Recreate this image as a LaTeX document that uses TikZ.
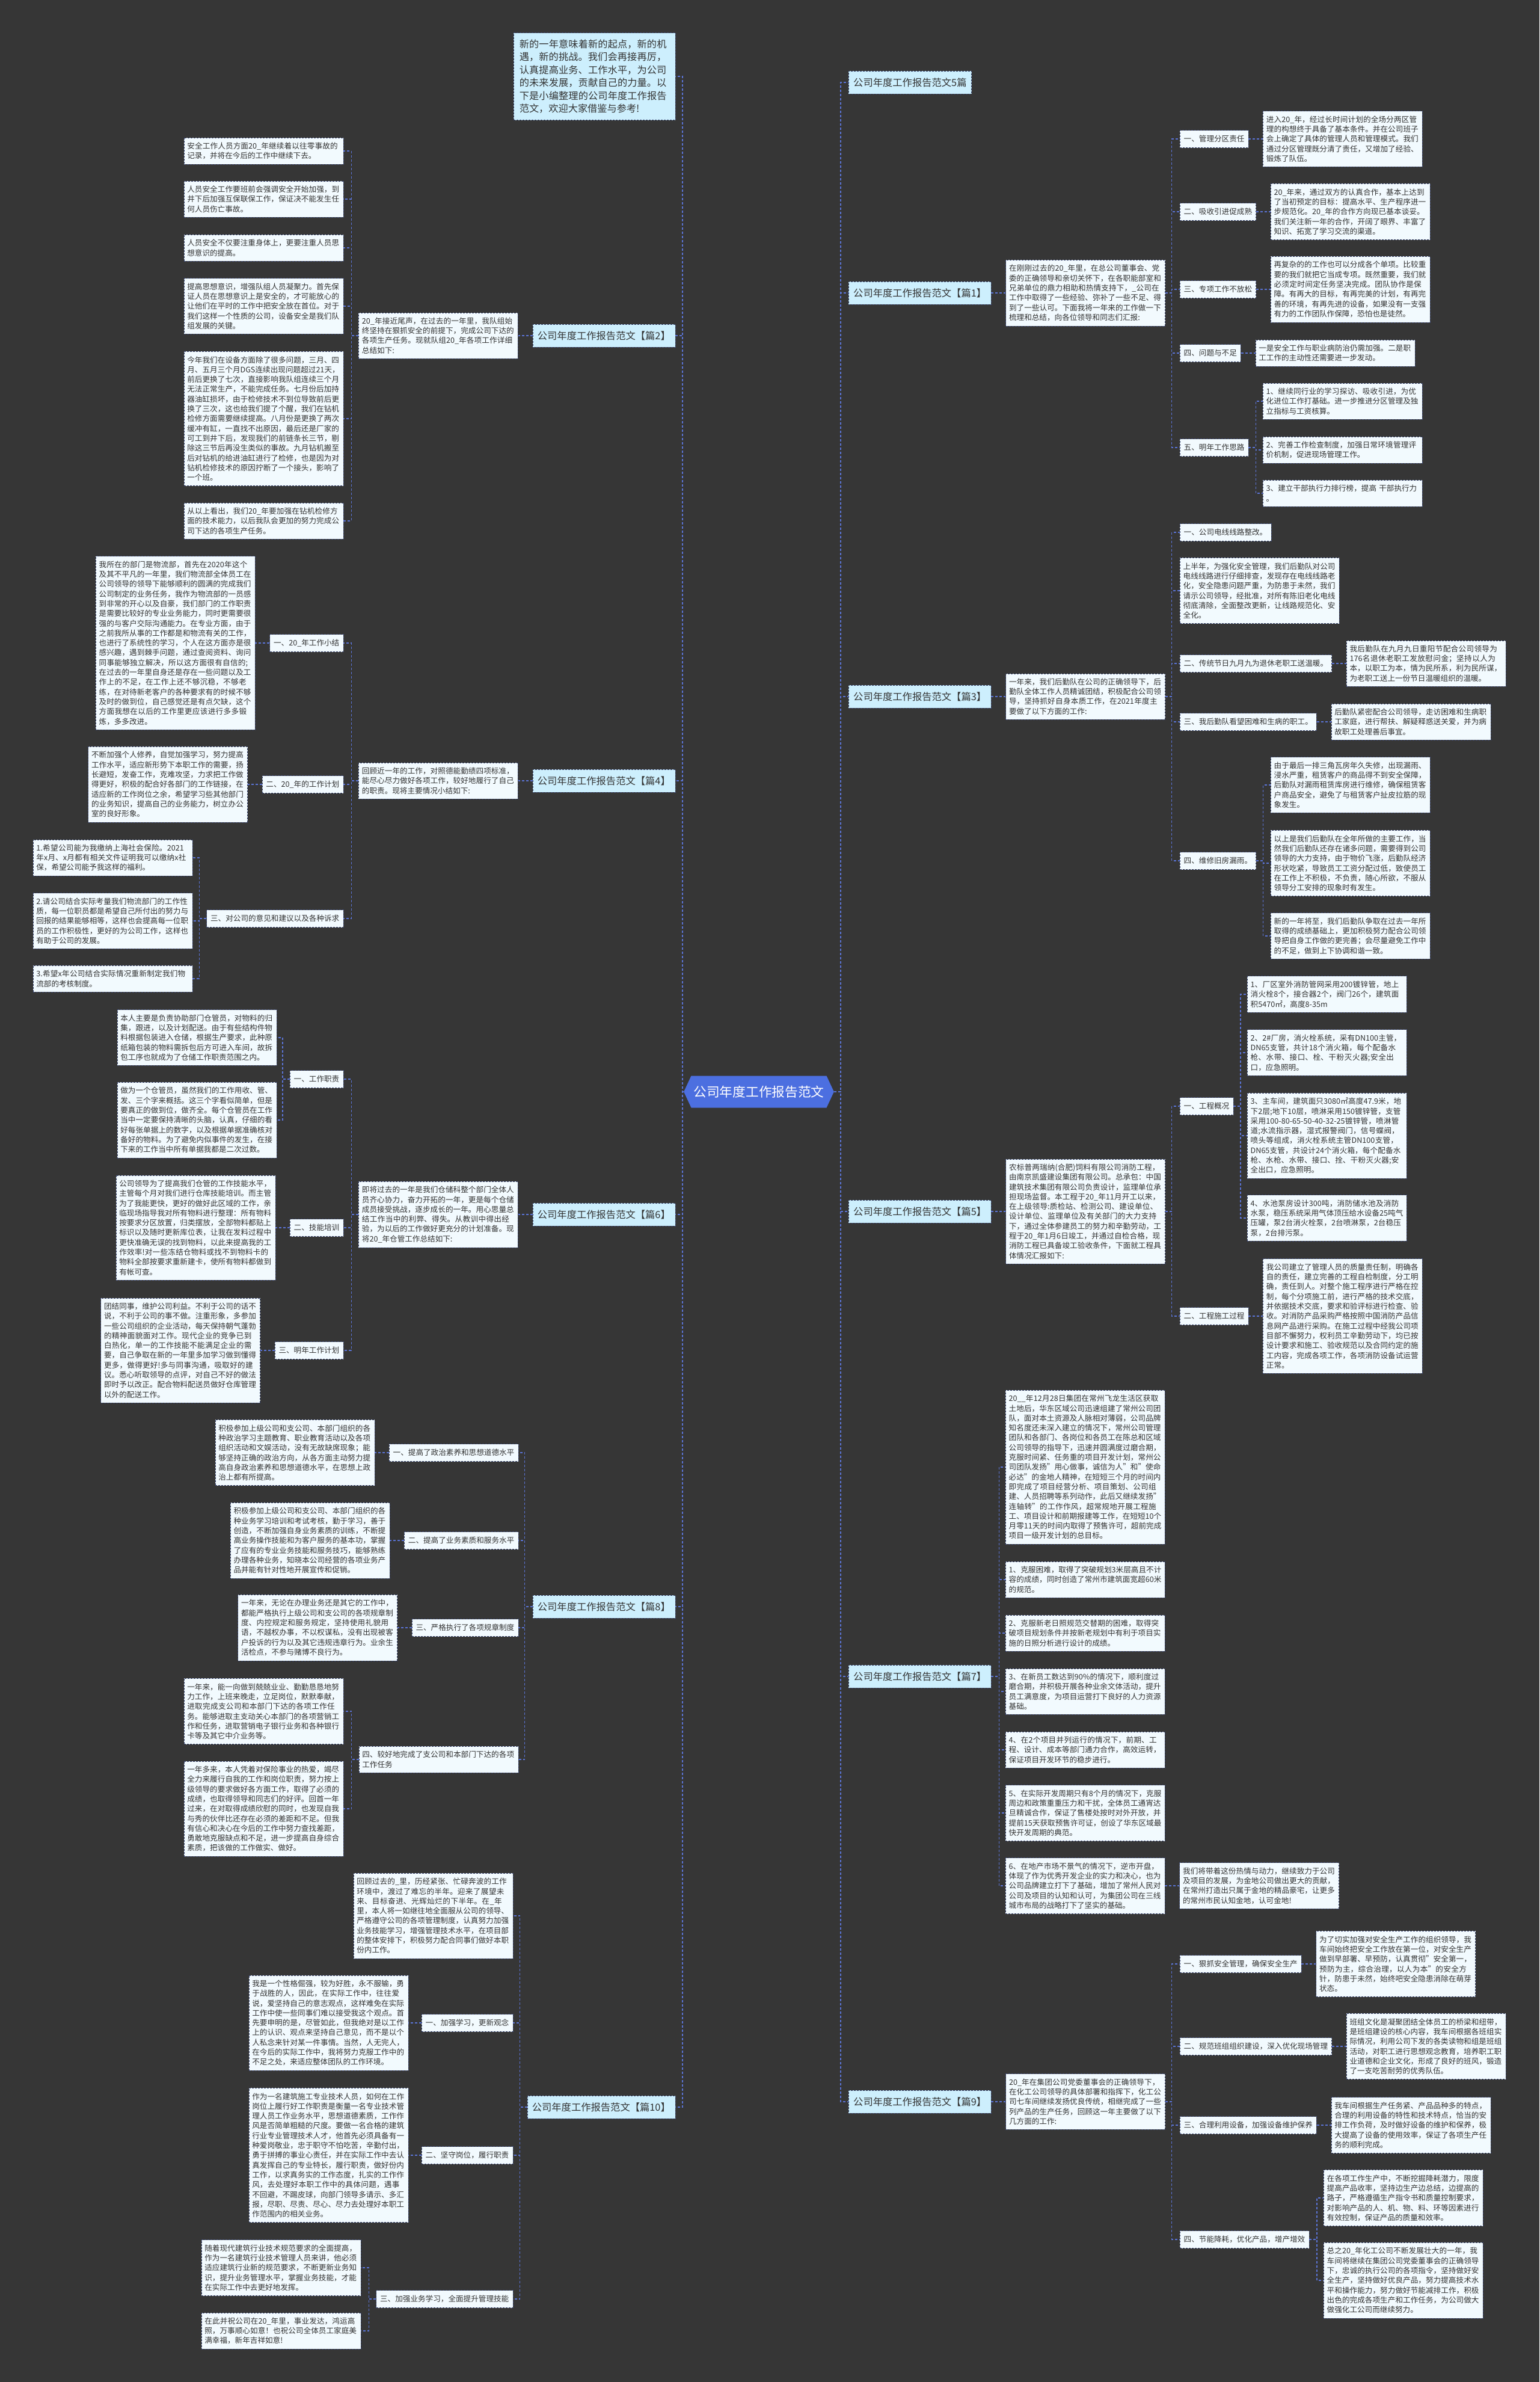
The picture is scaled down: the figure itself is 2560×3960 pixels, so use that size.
\documentclass[tikz,border=0pt]{standalone}
\usepackage{fontspec}
\setmainfont{Noto Sans CJK SC}
\XeTeXlinebreaklocale "zh"
\XeTeXlinebreakskip = 0pt plus 1pt
\usetikzlibrary{positioning, shapes.symbols}
\definecolor{mmback}{HTML}{363636}
\definecolor{mmhub}{HTML}{4C6FE0}
\definecolor{mmpale}{HTML}{CDEFFD}
\definecolor{mmleaf}{HTML}{F2FAFE}
\definecolor{mmedge}{HTML}{3A4670}
\definecolor{mmlink}{HTML}{5B74D6}
\definecolor{mmink}{HTML}{333333}
\newcommand\mmleaffont{\fontsize{12.6}{16.3}\selectfont}
\newcommand\mmbranchfont{\fontsize{16.3}{20}\selectfont}
\newcommand\mmintrofont{\fontsize{16.2}{21.5}\selectfont}
\newcommand\mmhubfont{\fontsize{21.7}{26}\selectfont}
\tikzset{
  hub/.style={
    signal, signal to=west and east, signal pointer angle=130, fill=mmhub,
    text=white, font=\mmhubfont, inner xsep=4pt, minimum height=53pt},
  branch/.style={
    draw=mmedge, dash pattern=on 3pt off 2pt, fill=mmpale, text=mmink,
    font=\mmbranchfont, inner xsep=8pt, minimum height=38pt},
  introbox/.style={
    branch, font=\mmintrofont, text width=249pt, inner xsep=10pt,
    inner ysep=11pt, align=left},
  topic/.style={
    draw=mmedge, dash pattern=on 3pt off 2pt, fill=mmleaf, text=mmink,
    font=\mmleaffont, inner xsep=6.5pt, minimum height=29pt},
  leaf/.style={
    topic, text width=254pt, inner xsep=5.5pt, inner ysep=8pt,
    minimum height=0pt, align=left},
  link/.style={draw=mmlink, dash pattern=on 4pt off 3pt, line width=1.3pt},
}

\begin{document}
\begin{tikzpicture}[x=1pt, y=-1pt]
  \fill[mmback] (0,0) rectangle (2560,3960);
  \useasboundingbox (0,0) rectangle (2560,3960);

  \node[hub] (hub) at (1262,1815) {公司年度工作报告范文};
  \coordinate (trunkL) at (1135,1815);
  \coordinate (trunkR) at (1398,1815);

  % ---------- left half ----------
  \node[introbox, anchor=east] (intro) at (1123,127)
       {新的一年意味着新的起点，新的机遇，新的挑战。我们会再接再厉，认真提高业务、工作水平，为公司的未来发展，贡献自己的力量。以下是小编整理的公司年度工作报告范文，欢迎大家借鉴与参考!};

  \node[branch, anchor=east] (b2) at (1123,558) {公司年度工作报告范文【篇2】};
  \node[leaf, left=24pt of b2] (s2) {20\_年接近尾声，在过去的一年里，我队组始终坚持在狠抓安全的前提下，完成公司下达的各项生产任务。现就队组20\_年各项工作详细总结如下:};
  \node[leaf, anchor=east] (l2a) at (571,251) {安全工作人员方面20\_年继续着以往零事故的记录，并将在今后的工作中继续下去。};
  \node[leaf, anchor=east] (l2b) at (571,331) {人员安全工作要班前会强调安全开始加强，到井下后加强互保联保工作，保证决不能发生任何人员伤亡事故。};
  \node[leaf, anchor=east] (l2c) at (571,412) {人员安全不仅要注重身体上，更要注重人员思想意识的提高。};
  \node[leaf, anchor=east] (l2d) at (571,509) {提高思想意识，增强队组人员凝聚力。首先保证人员在思想意识上是安全的，才可能放心的让他们在平时的工作中把安全放在首位。对于我们这样一个性质的公司，设备安全是我们队组发展的关键。};
  \node[leaf, anchor=east] (l2e) at (571,696) {今年我们在设备方面除了很多问题，三月、四月、五月三个月DGS连续出现问题超过21天，前后更换了七次，直接影响我队组连续三个月无法正常生产，不能完成任务。七月份后加持器油缸损坏，由于检修技术不到位导致前后更换了三次，这也给我们提了个醒，我们在钻机检修方面需要继续提高。八月份是更换了两次缓冲有缸，一直找不出原因，最后还是厂家的可工到井下后，发现我们的前链条长三节，剔除这三节后再没生类似的事故。九月钻机搬至后对钻机的给进油缸进行了检修，也是因为对钻机检修技术的原因拧断了一个接头，影响了一个班。};
  \node[leaf, anchor=east] (l2f) at (571,866) {从以上看出，我们20\_年要加强在钻机检修方面的技术能力，以后我队会更加的努力完成公司下达的各项生产任务。};

  \node[branch, anchor=east] (b4) at (1123,1298) {公司年度工作报告范文【篇4】};
  \node[leaf, left=24pt of b4] (s4) {回顾近一年的工作，对照德能勤绩四项标准，能尽心尽力做好各项工作，较好地履行了自己的职责。现将主要情况小结如下:};
  \node[topic, anchor=east] (t4a) at (571,1069) {一、20\_年工作小结};
  \node[leaf, left=24pt of t4a] (l4a) {我所在的部门是物流部，首先在2020年这个及其不平凡的一年里，我们物流部全体员工在公司领导的领导下能够顺利的圆满的完成我们公司制定的业务任务，我作为物流部的一员感到非常的开心以及自豪，我们部门的工作职责是需要比较好的专业业务能力，同时更需要很强的与客户交际沟通能力。在专业方面，由于之前我所从事的工作都是和物流有关的工作，也进行了系统性的学习，个人在这方面亦是很感兴趣，遇到棘手问题，通过查阅资料、询问同事能够独立解决，所以这方面很有自信的;在过去的一年里自身还是存在一些问题以及工作上的不足，在工作上还不够沉稳，不够老练，在对待新老客户的各种要求有的时候不够及时的做到位，自己感觉还是有点欠缺，这个方面我想在以后的工作里更应该进行多多锻炼，多多改进。};
  \node[topic, anchor=east] (t4b) at (571,1304) {二、20\_年的工作计划};
  \node[leaf, left=24pt of t4b] (l4b) {不断加强个人修养，自觉加强学习，努力提高工作水平，适应新形势下本职工作的需要，扬长避短，发奋工作，克难攻坚，力求把工作做得更好，积极的配合好各部门的工作链接，在适应新的工作岗位之余，希望学习些其他部门的业务知识，提高自己的业务能力，树立办公室的良好形象。};
  \node[topic, anchor=east] (t4c) at (571,1527) {三、对公司的意见和建议以及各种诉求};
  \node[leaf, anchor=east] (l4c1) at (320,1426) {1.希望公司能为我缴纳上海社会保险。2021年x月、x月都有相关文件证明我可以缴纳x社保，希望公司能予我这样的福利。};
  \node[leaf, anchor=east] (l4c2) at (320,1531) {2.请公司结合实际考量我们物流部门的工作性质，每一位职员都是希望自己所付出的努力与回报的结果能够相等，这样也会提高每一位职员的工作积极性，更好的为公司工作，这样也有助于公司的发展。};
  \node[leaf, anchor=east] (l4c3) at (320,1627) {3.希望x年公司结合实际情况重新制定我们物流部的考核制度。};

  \node[branch, anchor=east] (b6) at (1123,2019) {公司年度工作报告范文【篇6】};
  \node[leaf, left=24pt of b6] (s6) {即将过去的一年是我们仓储科整个部门全体人员齐心协力，奋力开拓的一年，更是每个仓储成员接受挑战，逐步成长的一年。用心思量总结工作当中的利弊、得失。从教训中得出经验，为以后的工作做好更充分的计划准备。现将20\_年仓管工作总结如下:};
  \node[topic, anchor=east] (t6a) at (571,1794) {一、工作职责};
  \node[leaf, anchor=east] (l6a1) at (460,1725) {本人主要是负责协助部门仓管员，对物料的归集，跟进，以及计划配送。由于有些结构件物料根据包装进入仓储，根据生产要求，此种原纸箱包装的物料需拆包后方可进入车间，故拆包工序也就成为了仓储工作职责范围之内。};
  \node[leaf, anchor=east] (l6a2) at (460,1862) {做为一个仓管员，虽然我们的工作用收、管、发、三个字来概括。这三个字看似简单，但是要真正的做到位，做齐全。每个仓管员在工作当中一定要保持清晰的头脑，认真，仔细的看好每张单据上的数字，以及根据单据准确核对备好的物料。为了避免内似事件的发生，在接下来的工作当中所有单据我都是二次过数。};
  \node[topic, anchor=east] (t6b) at (571,2041) {二、技能培训};
  \node[leaf, left=24pt of t6b] (l6b) {公司领导为了提高我们仓管的工作技能水平，主管每个月对我们进行仓库技能培训。而主管为了我能更快，更好的做好此区域的工作，亲临现场指导我对所有物料进行整理：所有物料按要求分区放置，归类摆放，全部物料都贴上标识以及随时更新库位表，让我在发料过程中更快准确无误的找到物料，以此来提高我的工作效率!对一些冻结仓物料或找不到物料卡的物料全部按要求重新建卡，使所有物料都做到有帐可查。};
  \node[topic, anchor=east] (t6c) at (571,2245) {三、明年工作计划};
  \node[leaf, left=24pt of t6c] (l6c) {团结同事，维护公司利益。不利于公司的话不说，不利于公司的事不做。注重形象，多参加一些公司组织的企业活动，每天保持朝气蓬勃的精神面貌面对工作。现代企业的竞争已到白热化，单一的工作技能不能满足企业的需要，自己争取在新的一年里多加学习做到懂得更多，做得更好!多与同事沟通，吸取好的建议。悉心听取领导的点评，对自己不好的做法即时予以改正。配合物料配送员做好仓库管理以外的配送工作。};

  \node[branch, anchor=east] (b8) at (1123,2671) {公司年度工作报告范文【篇8】};
  \node[topic, anchor=east] (t8a) at (862,2415) {一、提高了政治素养和思想道德水平};
  \node[leaf, left=24pt of t8a] (l8a) {积极参加上级公司和支公司、本部门组织的各种政治学习主题教育、职业教育活动以及各项组织活动和文娱活动，没有无故缺席现象；能够坚持正确的政治方向，从各方面主动努力提高自身政治素养和思想道德水平，在思想上政治上都有所提高。};
  \node[topic, anchor=east] (t8b) at (862,2561) {二、提高了业务素质和服务水平};
  \node[leaf, left=24pt of t8b] (l8b) {积极参加上级公司和支公司、本部门组织的各种业务学习培训和考试考核，勤于学习，善于创造，不断加强自身业务素质的训练，不断提高业务操作技能和为客户服务的基本功，掌握了应有的专业业务技能和服务技巧，能够熟练办理各种业务，知晓本公司经营的各项业务产品并能有针对性地开展宣传和促销。};
  \node[topic, anchor=east] (t8c) at (862,2706) {三、严格执行了各项规章制度};
  \node[leaf, left=24pt of t8c] (l8c) {一年来，无论在办理业务还是其它的工作中，都能严格执行上级公司和支公司的各项规章制度、内控规定和服务规定，坚持使用礼貌用语，不越权办事，不以权谋私，没有出现被客户投诉的行为以及其它违规违章行为。业余生活检点，不参与赌博不良行为。};
  \node[leaf, anchor=east] (t8d) at (862,2925) {四、较好地完成了支公司和本部门下达的各项工作任务};
  \node[leaf, anchor=east] (l8d1) at (571,2845) {一年来，能一向做到兢兢业业、勤勤恳恳地努力工作，上班来晚走，立足岗位，默默奉献，进取完成支公司和本部门下达的各项工作任务。能够进取主支动关心本部门的各项营销工作和任务，进取营销电子银行业务和各种银行卡等及其它中介业务等。};
  \node[leaf, anchor=east] (l8d2) at (571,3007) {一年多来，本人凭着对保险事业的热爱，竭尽全力来履行自我的工作和岗位职责，努力按上级领导的要求做好各方面工作，取得了必须的成绩，也取得领导和同志们的好评。回首一年过来，在对取得成绩欣慰的同时，也发现自我与秀的伙伴比还存在必须的差距和不足。但我有信心和决心在今后的工作中努力查找差距，勇敢地克服缺点和不足，进一步提高自身综合素质，把该做的工作做实、做好。};

  \node[branch, anchor=east] (b10) at (1123,3503) {公司年度工作报告范文【篇10】};
  \node[leaf, anchor=east] (l10) at (853,3185) {回顾过去的\_里，历经紧张、忙碌奔波的工作环境中，渡过了难忘的半年。迎来了展望未来、目标奋进、光辉灿烂的下半年。在\_年里，本人将一如继往地全面服从公司的领导、严格遵守公司的各项管理制度，认真努力加强业务技能学习，增强管理技术水平，在项目部的整体安排下，积极努力配合同事们做好本职份内工作。};
  \node[topic, anchor=east] (t10a) at (853,3363) {一、加强学习，更新观念};
  \node[leaf, left=22pt of t10a] (l10a) {我是一个性格倔强，较为好胜，永不服输，勇于战胜的人，因此，在实际工作中，往往爱说，爱坚持自己的意志观点，这样难免在实际工作中使一些同事们难以接受我这个观点。首先要申明的是，尽管如此，但我绝对是以工作上的认识、观点来坚持自己意见，而不是以个人私念来针对某一件事情。当然，人无完人，在今后的实际工作中，我将努力克服工作中的不足之处，来适应整体团队的工作环境。};
  \node[topic, anchor=east] (t10b) at (853,3583) {二、坚守岗位，履行职责};
  \node[leaf, left=22pt of t10b] (l10b) {作为一名建筑施工专业技术人员，如何在工作岗位上履行好工作职责是衡量一名专业技术管理人员工作业务水平，思想道德素质，工作作风是否简单粗糙的尺度。要做一名合格的建筑行业专业管理技术人才，他首先必须具备有一种爱岗敬业，忠于职守不怕吃苦，辛勤付出，勇于拼搏的事业心责任，并在实际工作中去认真发挥自己的专业特长，履行职责，做好份内工作，以求真务实的工作态度，扎实的工作作风，去处理好本职工作中的具体问题，遇事不回避，不踢皮球，向部门领导多请示、多汇报，尽职、尽责、尽心、尽力去处理好本职工作范围内的相关业务。};
  \node[topic, anchor=east] (t10c) at (853,3822) {三、加强业务学习，全面提升管理技能};
  \node[leaf, anchor=east] (l10c1) at (600,3770) {随着现代建筑行业技术规范要求的全面提高，作为一名建筑行业技术管理人员来讲，他必须适应建筑行业新的规范要求，不断更新业务知识，提升业务管理水平，掌握业务技能，才能在实际工作中去更好地发挥。};
  \node[leaf, anchor=east] (l10c2) at (600,3875) {在此并祝公司在20\_年里，事业发达，鸿运高照，万事顺心如意！也祝公司全体员工家庭美满幸福，新年吉祥如意!};

  % ---------- right half ----------
  \node[branch, anchor=west] (b0) at (1411,137) {公司年度工作报告范文5篇};

  \node[branch, anchor=west] (b1) at (1411,487) {公司年度工作报告范文【篇1】};
  \node[leaf, right=24pt of b1] (s1) {在刚刚过去的20\_年里，在总公司董事会、党委的正确领导和亲切关怀下，在各职能部室和兄弟单位的鼎力相助和热情支持下，\_公司在工作中取得了一些经验、弥补了一些不足、得到了一些认可。下面我将一年来的工作做一下梳理和总结，向各位领导和同志们汇报:};
  \node[topic, anchor=west] (t1a) at (1962,231) {一、管理分区责任};
  \node[leaf, right=24pt of t1a] (l1a) {进入20\_年，经过长时间计划的全场分两区管理的构想终于具备了基本条件。并在公司班子会上确定了具体的管理人员和管理模式。我们通过分区管理既分清了责任，又增加了经验、锻炼了队伍。};
  \node[topic, anchor=west] (t1b) at (1962,352) {二、吸收引进促成熟};
  \node[leaf, right=24pt of t1b] (l1b) {20\_年来，通过双方的认真合作，基本上达到了当初预定的目标：提高水平、生产程序进一步规范化。20\_年的合作方向现已基本谈妥。我们关注新一年的合作，开阔了眼界、丰富了知识、拓宽了学习交流的渠道。};
  \node[topic, anchor=west] (t1c) at (1962,481) {三、专项工作不放松};
  \node[leaf, right=24pt of t1c] (l1c) {再复杂的的工作也可以分成各个单项。比较重要的我们就把它当成专项。既然重要，我们就必须定时间定任务坚决完成。团队协作是保障。有再大的目标，有再完美的计划，有再完善的环境，有再先进的设备，如果没有一支强有力的工作团队作保障，恐怕也是徒然。};
  \node[topic, anchor=west] (t1d) at (1962,587) {四、问题与不足};
  \node[leaf, right=24pt of t1d] (l1d) {一是安全工作与职业病防治仍需加强。二是职工工作的主动性还需要进一步发动。};
  \node[topic, anchor=west] (t1e) at (1962,744) {五、明年工作思路};
  \node[leaf, anchor=west] (l1e1) at (2100,667) {1、继续同行业的学习探访、吸收引进，为优化进位工作打基础。进一步推进分区管理及独立指标与工资核算。};
  \node[leaf, anchor=west] (l1e2) at (2100,748) {2、完善工作检查制度，加强日常环境管理评价机制，促进现场管理工作。};
  \node[leaf, anchor=west] (l1e3) at (2100,820) {3、建立干部执行力排行榜，提高 干部执行力\newline 。};

  \node[branch, anchor=west] (b3) at (1411,1158) {公司年度工作报告范文【篇3】};
  \node[leaf, right=24pt of b3] (s3) {一年来，我们后勤队在公司的正确领导下，后勤队全体工作人员精诚团结，积极配合公司领导，坚持抓好自身本质工作，在2021年度主要做了以下方面的工作:};
  \node[topic, anchor=west] (t3a) at (1962,885) {一、公司电线线路整改。};
  \node[leaf, anchor=west] (l3x) at (1962,982) {上半年，为强化安全管理，我们后勤队对公司电线线路进行仔细排查，发现存在电线线路老化，安全隐患问题严重，为防患于未然，我们请示公司领导，经批准，对所有陈旧老化电线彻底清除，全面整改更新，让线路规范化、安全化。};
  \node[topic, anchor=west] (t3b) at (1962,1103) {二、传统节日九月九为退休老职工送温暖。};
  \node[leaf, right=24pt of t3b] (l3b) {我后勤队在九月九日重阳节配合公司领导为176名退休老职工发放慰问金；坚持以人为本，以职工为本，情为民所系，利为民所谋，为老职工送上一份节日温暖组织的温暖。};
  \node[topic, anchor=west] (t3c) at (1962,1200) {三、我后勤队看望困难和生病的职工。};
  \node[leaf, right=24pt of t3c] (l3c) {后勤队紧密配合公司领导，走访困难和生病职工家庭，进行帮扶、解疑释惑送关爱，并为病故职工处理善后事宜。};
  \node[topic, anchor=west] (t3d) at (1962,1431) {四、维修旧房漏雨。};
  \node[leaf, anchor=west] (l3d1) at (2113,1305) {由于最后一排三角瓦房年久失修，出现漏雨、浸水严重，租赁客户的商品得不到安全保障，后勤队对漏雨租赁库房进行维修，确保租赁客户商品安全，避免了与租赁客户扯皮拉筋的现象发生。};
  \node[leaf, anchor=west] (l3d2) at (2113,1435) {以上是我们后勤队在全年所做的主要工作，当然我们后勤队还存在诸多问题，需要得到公司领导的大力支持，由于物价飞涨，后勤队经济形状吃紧，导致员工工资分配过低，致使员工在工作上不积极，不负责，随心所欲，不服从领导分工安排的现象时有发生。};
  \node[leaf, anchor=west] (l3d3) at (2113,1556) {新的一年将至，我们后勤队争取在过去一年所取得的成绩基础上，更加积极努力配合公司领导把自身工作做的更完善；会尽量避免工作中的不足，做到上下协调和谐一致。};

  \node[branch, anchor=west] (b5) at (1411,2014) {公司年度工作报告范文【篇5】};
  \node[leaf, right=24pt of b5] (s5) {农标普两瑞纳(合肥)饲料有限公司消防工程，由南京凯盛建设集团有限公司。总承包：中国建筑技术集团有限公司负责设计，监理单位承担现场监督。本工程于20\_年11月开工以来，在上级领导:质检站、检测公司、建设单位、设计单位、监理单位及有关部门的大力支持下，通过全体参建员工的努力和辛勤劳动，工程于20\_年1月6日竣工，并通过自检合格，现消防工程已具备竣工验收条件，下面就工程具体情况汇报如下:};
  \node[topic, anchor=west] (t5a) at (1962,1839) {一、工程概况};
  \node[leaf, anchor=west] (l5a1) at (2074,1653) {1、厂区室外消防管网采用200镀锌管，地上消火栓8个，接合器2个，阀门26个，建筑面积5470㎡，高度8-35m};
  \node[leaf, anchor=west] (l5a2) at (2074,1750) {2、2\#厂房，消火栓系统，采有DN100主管，DN65支管，共计18个消火箱，每个配备水枪、水带、接口、栓、干粉灭火器;安全出口，应急照明。};
  \node[leaf, anchor=west] (l5a3) at (2074,1888) {3、主车间，建筑面只3080㎡高度47.9米，地下2层;地下10层，喷淋采用150镀锌管，支管采用100-80-65-50-40-32-25镀锌管，喷淋管道;水流指示器，湿式报警阀门，信号蝶阀，喷头等组成，消火栓系统主管DN100支管，DN65支管，共设计24个消火箱，每个配备水枪、水枪、水带、接口、拴、干粉灭火器;安全出口，应急照明。};
  \node[leaf, anchor=west] (l5a4) at (2074,2025) {4、水池泵房设计300吨，消防储水池及消防水泵，稳压系统采用气体顶压给水设备25吨气压罐，泵2台消火栓泵，2台喷淋泵，2台稳压泵，2台排污泵。};
  \node[topic, anchor=west] (t5b) at (1962,2188) {二、工程施工过程};
  \node[leaf, right=24pt of t5b] (l5b) {我公司建立了管理人员的质量责任制，明确各自的责任，建立完善的工程自检制度，分工明确，责任到人。对整个施工程序进行严格在控制，每个分项施工前，进行严格的技术交底，并依据技术交底，要求和验评标进行检查、验收。对消防产品采购严格按照中国消防产品信息网产品进行采购。在施工过程中经我公司项目部不懈努力，权利员工辛勤劳动下，均已按设计要求和施工、验收规范以及合同约定的施工内容，完成各项工作，各项消防设备试运营正常。};

  \node[branch, anchor=west] (b7) at (1411,2787) {公司年度工作报告范文【篇7】};
  \node[leaf, anchor=west] (l7a) at (1672,2439) {20\_\_年12月28日集团在常州飞龙生活区获取土地后，华东区域公司迅速组建了常州公司团队，面对本土资源及人脉相对薄弱，公司品牌知名度还未深入建立的情况下，常州公司管理团队和各部门、各岗位和各员工在陈总和区域公司领导的指导下，迅速并圆满度过磨合期，克服时间紧、任务重的项目开发计划，常州公司团队发扬"用心做事，诚信为人"和"使命必达"的金地人精神，在短短三个月的时间内即完成了项目经营分析、项目策划、公司组建、人员招聘等系列动作，此后又继续发扬"连轴转"的工作作风，超常规地开展工程施工、项目设计和前期报建等工作，在短短10个月零11天的时间内取得了预售许可，超前完成项目一级开发计划的总目标。};
  \node[leaf, anchor=west] (l7b) at (1672,2626) {1、克服困难，取得了突破规划3米层高且不计容的成绩，同时创造了常州市建筑面宽超60米的规范。};
  \node[leaf, anchor=west] (l7c) at (1672,2715) {2、克服新老日照规范交替期的困难，取得突破项目规划条件并按新老规划中有利于项目实施的日照分析进行设计的成绩。};
  \node[leaf, anchor=west] (l7d) at (1672,2812) {3、在新员工数达到90\%的情况下，顺利度过磨合期，并积极开展各种业余文体活动，提升员工满意度，为项目运营打下良好的人力资源基础。};
  \node[leaf, anchor=west] (l7e) at (1672,2909) {4、在2个项目并列运行的情况下，前期、工程、设计、成本等部门通力合作，高效运转，保证项目开发环节的稳步进行。};
  \node[leaf, anchor=west] (l7f) at (1672,3014) {5、在实际开发周期只有8个月的情况下，克服周边和政策重重压力和干扰，全体员工通宵达旦精诚合作，保证了售楼处按时对外开放，并提前15天获取预售许可证，创设了华东区域最快开发周期的典范。};
  \node[leaf, anchor=west] (l7g) at (1672,3135) {6、在地产市场不景气的情况下，逆市开盘，体现了作为优秀开发企业的实力和决心，也为公司品牌建立打下了基础，增加了常州人民对公司及项目的认知和认可，为集团公司在三线城市布局的战略打下了坚实的基础。};
  \node[leaf, right=24pt of l7g] (l7h) {我们将带着这份热情与动力，继续致力于公司及项目的发展，为金地公司做出更大的贡献，在常州打造出只属于金地的精品豪宅，让更多的常州市民认知金地，认可金地!};

  \node[branch, anchor=west] (b9) at (1411,3494) {公司年度工作报告范文【篇9】};
  \node[leaf, right=24pt of b9] (s9) {20\_年在集团公司党委董事会的正确领导下，在化工公司领导的具体部署和指挥下，化工公司七车间继续发扬优良传统，相继完成了一些列产品的生产任务，回顾这一年主要做了以下几方面的工作:};
  \node[topic, anchor=west] (t9a) at (1962,3265) {一、狠抓安全管理，确保安全生产};
  \node[leaf, right=24pt of t9a] (l9a) {为了切实加强对安全生产工作的组织领导，我车间始终把安全工作放在第一位，对安全生产做到早部署、早预防，认真贯彻"安全第一，预防为主，综合治理，以人为本"的安全方针，防患于未然，始终吧安全隐患消除在萌芽状态。};
  \node[topic, anchor=west] (t9b) at (1962,3402) {二、规范班组组织建设，深入优化现场管理};
  \node[leaf, right=24pt of t9b] (l9b) {班组文化是凝聚团结全体员工的桥梁和纽带，是班组建设的核心内容，我车间根据各班组实际情况，利用公司下发的各类读物和组是班组活动，对职工进行思想观念教育，培养职工职业道德和企业文化，形成了良好的班风，锻造了一支吃苦耐劳的优秀队伍。};
  \node[topic, anchor=west] (t9c) at (1962,3533) {三、合理利用设备，加强设备维护保养};
  \node[leaf, right=24pt of t9c] (l9c) {我车间根据生产任务紧、产品品种多的特点，合理的利用设备的特性和技术特点，恰当的安排工作负荷，及时做好设备的维护和保养，极大提高了设备的使用效率，保证了各项生产任务的顺利完成。};
  \node[topic, anchor=west] (t9d) at (1962,3723) {四、节能降耗，优化产品，增产增效};
  \node[leaf, anchor=west] (l9d1) at (2201,3654) {在各项工作生产中，不断挖掘降耗潜力，限度提高产品收率，坚持边生产边总结，边提高的路子，严格遵循生产指令书和质量控制要求，对影响产品的人、机、物、料、环等因素进行有效控制，保证产品的质量和效率。};
  \node[leaf, anchor=west] (l9d2) at (2201,3791) {总之20\_年化工公司不断发展壮大的一年，我车间将继续在集团公司党委董事会的正确领导下，忠诚的执行公司的各项指令，坚持做好安全生产，坚持做好优良产品，努力提高技术水平和操作能力，努力做好节能减排工作，积极出色的完成各项生产和工作任务，为公司做大做强化工公司而继续努力。};

  % ---------- connectors ----------
  \foreach \n in {intro,b2,b4,b6,b8,b10}
    \draw[link] (hub.west) -- (trunkL) |- (\n.east);
  \foreach \n in {b0,b1,b3,b5,b7,b9}
    \draw[link] (hub.east) -- (trunkR) |- (\n.west);

  \draw[link] (b2.west) -- (s2.east);
  \foreach \n in {l2a,l2b,l2c,l2d,l2e,l2f}
    \draw[link] (s2.west) -- ++(-12,0) |- (\n.east);

  \draw[link] (b4.west) -- (s4.east);
  \foreach \n in {t4a,t4b,t4c}
    \draw[link] (s4.west) -- ++(-12,0) |- (\n.east);
  \draw[link] (t4a.west) -- (l4a.east);
  \draw[link] (t4b.west) -- (l4b.east);
  \foreach \n in {l4c1,l4c2,l4c3}
    \draw[link] (t4c.west) -- ++(-12,0) |- (\n.east);

  \draw[link] (b6.west) -- (s6.east);
  \foreach \n in {t6a,t6b,t6c}
    \draw[link] (s6.west) -- ++(-12,0) |- (\n.east);
  \foreach \n in {l6a1,l6a2}
    \draw[link] (t6a.west) -- ++(-12,0) |- (\n.east);
  \draw[link] (t6b.west) -- (l6b.east);
  \draw[link] (t6c.west) -- (l6c.east);

  \foreach \n in {t8a,t8b,t8c,t8d}
    \draw[link] (b8.west) -- ++(-13,0) |- (\n.east);
  \draw[link] (t8a.west) -- (l8a.east);
  \draw[link] (t8b.west) -- (l8b.east);
  \draw[link] (t8c.west) -- (l8c.east);
  \foreach \n in {l8d1,l8d2}
    \draw[link] (t8d.west) -- ++(-12,0) |- (\n.east);

  \foreach \n in {l10,t10a,t10b,t10c}
    \draw[link] (b10.west) -- ++(-12,0) |- (\n.east);
  \draw[link] (t10a.west) -- (l10a.east);
  \draw[link] (t10b.west) -- (l10b.east);
  \foreach \n in {l10c1,l10c2}
    \draw[link] (t10c.west) -- ++(-12,0) |- (\n.east);

  \draw[link] (b1.east) -- (s1.west);
  \foreach \n in {t1a,t1b,t1c,t1d,t1e}
    \draw[link] (s1.east) -- ++(11,0) |- (\n.west);
  \foreach \t/\l in {t1a/l1a,t1b/l1b,t1c/l1c,t1d/l1d}
    \draw[link] (\t.east) -- (\l.west);
  \foreach \n in {l1e1,l1e2,l1e3}
    \draw[link] (t1e.east) -- ++(12,0) |- (\n.west);

  \draw[link] (b3.east) -- (s3.west);
  \foreach \n in {t3a,l3x,t3b,t3c,t3d}
    \draw[link] (s3.east) -- ++(11,0) |- (\n.west);
  \draw[link] (t3b.east) -- (l3b.west);
  \draw[link] (t3c.east) -- (l3c.west);
  \foreach \n in {l3d1,l3d2,l3d3}
    \draw[link] (t3d.east) -- ++(12,0) |- (\n.west);

  \draw[link] (b5.east) -- (s5.west);
  \foreach \n in {t5a,t5b}
    \draw[link] (s5.east) -- ++(11,0) |- (\n.west);
  \foreach \n in {l5a1,l5a2,l5a3,l5a4}
    \draw[link] (t5a.east) -- ++(12,0) |- (\n.west);
  \draw[link] (t5b.east) -- (l5b.west);

  \foreach \n in {l7a,l7b,l7c,l7d,l7e,l7f,l7g}
    \draw[link] (b7.east) -- ++(13,0) |- (\n.west);
  \draw[link] (l7g.east) -- (l7h.west);

  \draw[link] (b9.east) -- (s9.west);
  \foreach \n in {t9a,t9b,t9c,t9d}
    \draw[link] (s9.east) -- ++(11,0) |- (\n.west);
  \draw[link] (t9a.east) -- (l9a.west);
  \draw[link] (t9b.east) -- (l9b.west);
  \draw[link] (t9c.east) -- (l9c.west);
  \foreach \n in {l9d1,l9d2}
    \draw[link] (t9d.east) -- ++(13,0) |- (\n.west);
\end{tikzpicture}
\end{document}
